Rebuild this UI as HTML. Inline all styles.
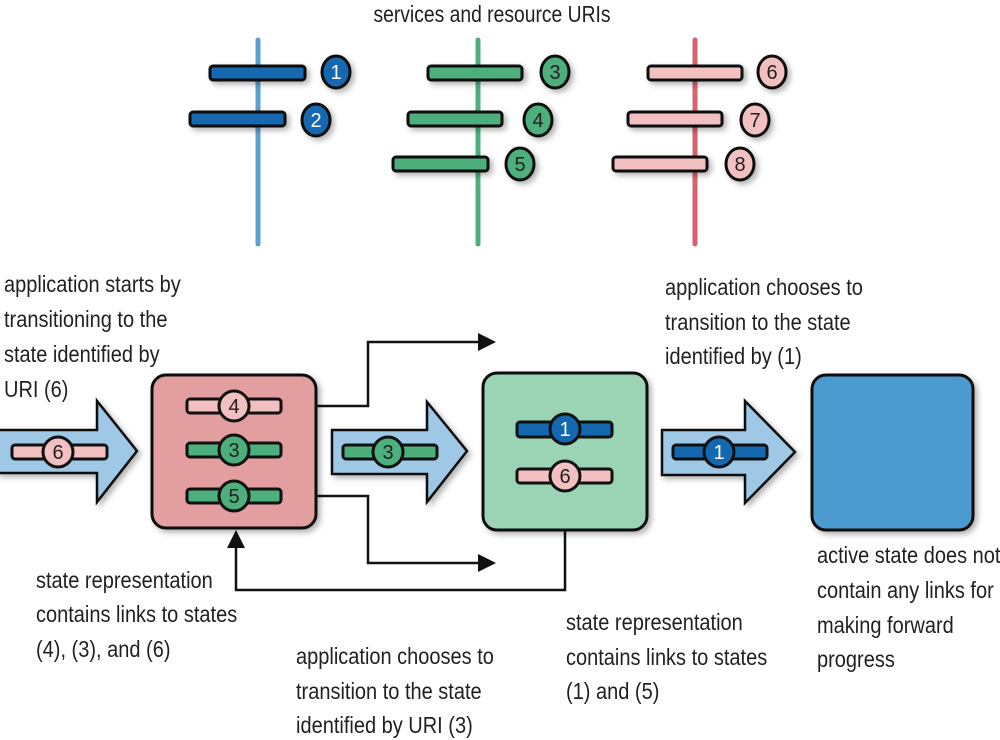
<!DOCTYPE html>
<html><head><meta charset="utf-8"><style>
html,body{margin:0;padding:0;background:#fff;}
svg{display:block;}
text{font-family:"Liberation Sans Narrow","Liberation Sans",sans-serif;font-size:23px;fill:#231f20;}
.n{font-size:20px;text-anchor:middle;}
</style></head><body>
<svg width="1000" height="740" viewBox="0 0 1000 740" xmlns="http://www.w3.org/2000/svg">
<defs>
<filter id="sh" x="-20%" y="-20%" width="150%" height="150%"><feDropShadow dx="3" dy="3" stdDeviation="3" flood-color="#000" flood-opacity="0.3"/></filter>
</defs>
<text transform="translate(492,22) scale(0.84,1)" text-anchor="middle">services and resource URIs</text>
<line x1="258" y1="40" x2="258" y2="244" stroke="#5aa0d0" stroke-width="5" stroke-linecap="round"/>
<line x1="478" y1="40" x2="478" y2="244" stroke="#4daf7c" stroke-width="5" stroke-linecap="round"/>
<line x1="695" y1="40" x2="695" y2="244" stroke="#d4636e" stroke-width="5" stroke-linecap="round"/>
<g stroke="#111" stroke-width="3" filter="url(#sh)">
<rect x="210" y="66" width="95" height="14" rx="3" fill="#1368b0"/>
<rect x="190" y="112" width="95" height="14" rx="3" fill="#1368b0"/>
<rect x="428" y="66" width="94" height="14" rx="3" fill="#4daf7c"/>
<rect x="408" y="112" width="94" height="14" rx="3" fill="#4daf7c"/>
<rect x="393" y="157" width="95" height="14" rx="3" fill="#4daf7c"/>
<rect x="648" y="66" width="94" height="14" rx="3" fill="#f2c0c0"/>
<rect x="628" y="112" width="94" height="14" rx="3" fill="#f2c0c0"/>
<rect x="613" y="157" width="94" height="14" rx="3" fill="#f2c0c0"/>
<ellipse cx="336" cy="72" rx="14" ry="16" fill="#1368b0"/>
<ellipse cx="316" cy="120" rx="14" ry="16" fill="#1368b0"/>
<ellipse cx="555" cy="72" rx="14" ry="16" fill="#4daf7c"/>
<ellipse cx="538" cy="120" rx="14" ry="16" fill="#4daf7c"/>
<ellipse cx="520" cy="164" rx="14" ry="16" fill="#4daf7c"/>
<ellipse cx="772" cy="72" rx="14" ry="16" fill="#f2c0c0"/>
<ellipse cx="755" cy="120" rx="14" ry="16" fill="#f2c0c0"/>
<ellipse cx="740" cy="164" rx="14" ry="16" fill="#f2c0c0"/>
</g>
<text class="n" x="336" y="79" style="fill:#fff">1</text>
<text class="n" x="316" y="127" style="fill:#fff">2</text>
<text class="n" x="555" y="79">3</text>
<text class="n" x="538" y="127">4</text>
<text class="n" x="520" y="171">5</text>
<text class="n" x="772" y="79">6</text>
<text class="n" x="755" y="127">7</text>
<text class="n" x="740" y="171">8</text>

<text transform="translate(4,292) scale(0.87,1)">application starts by</text>
<text transform="translate(4,327) scale(0.87,1)">transitioning to the</text>
<text transform="translate(4,362) scale(0.87,1)">state identified by</text>
<text transform="translate(4,397) scale(0.87,1)">URI (6)</text>
<text transform="translate(665,295) scale(0.87,1)">application chooses to</text>
<text transform="translate(665,330) scale(0.87,1)">transition to the state</text>
<text transform="translate(665,364) scale(0.87,1)">identified by (1)</text>
<text transform="translate(36,588) scale(0.87,1)">state representation</text>
<text transform="translate(36,622) scale(0.87,1)">contains links to states</text>
<text transform="translate(36,657) scale(0.87,1)">(4), (3), and (6)</text>
<text transform="translate(296,664) scale(0.87,1)">application chooses to</text>
<text transform="translate(296,699) scale(0.87,1)">transition to the state</text>
<text transform="translate(296,733) scale(0.87,1)">identified by URI (3)</text>
<text transform="translate(566,630) scale(0.87,1)">state representation</text>
<text transform="translate(566,665) scale(0.87,1)">contains links to states</text>
<text transform="translate(566,699) scale(0.87,1)">(1) and (5)</text>
<text transform="translate(817,563) scale(0.87,1)">active state does not</text>
<text transform="translate(817,598) scale(0.87,1)">contain any links for</text>
<text transform="translate(817,633) scale(0.87,1)">making forward</text>
<text transform="translate(817,667) scale(0.87,1)">progress</text>

<g fill="none" stroke="#111" stroke-width="2.5">
<polyline points="281,406 368,406 368,342 480,342"/>
<polyline points="281,496 368,496 368,563 480,563"/>
<polyline points="565,480 565,590 236,590 236,545"/>
</g>
<polygon points="496,342 478,333 478,351" fill="#111"/>
<polygon points="496,563 478,554 478,572" fill="#111"/>
<polygon points="236,530 227,548 245,548" fill="#111"/>

<g stroke="#111" stroke-width="2.5" fill="#9ec8e6" filter="url(#sh)">
<polygon points="-3,430 97,430 97,401 137,451 97,502 97,473 -3,473"/>
<polygon points="332,430 427,430 427,402 467,451 427,502 427,474 332,474"/>
<polygon points="662,430 745,430 745,401 795,452 745,503 745,475 662,475"/>
</g>
<g stroke="#111" stroke-width="3" filter="url(#sh)">
<rect x="152" y="375" width="164" height="153" rx="14" fill="#e39ea0"/>
<rect x="483" y="373" width="164" height="157" rx="14" fill="#9ad4b5"/>
<rect x="812" y="375" width="161" height="155" rx="14" fill="#4b9bd1"/>
</g>
<g stroke="#111" stroke-width="3">
<rect x="12" y="445" width="95" height="14" rx="3" fill="#f2c0c0"/>
<circle cx="58" cy="452" r="15" fill="#f2c0c0"/>
<rect x="187" y="399" width="94" height="14" rx="3" fill="#f2c0c0"/>
<circle cx="234" cy="406" r="15" fill="#f2c0c0"/>
<rect x="187" y="443" width="94" height="14" rx="3" fill="#4daf7c"/>
<circle cx="234" cy="450" r="15" fill="#4daf7c"/>
<rect x="187" y="489" width="94" height="14" rx="3" fill="#4daf7c"/>
<circle cx="234" cy="496" r="15" fill="#4daf7c"/>
<rect x="343" y="445" width="94" height="14" rx="3" fill="#4daf7c"/>
<circle cx="388" cy="452" r="15" fill="#4daf7c"/>
<rect x="517" y="422" width="95" height="15" rx="3" fill="#1368b0"/>
<circle cx="565" cy="429" r="15" fill="#1368b0"/>
<rect x="517" y="469" width="95" height="14" rx="3" fill="#f2c0c0"/>
<circle cx="565" cy="476" r="15" fill="#f2c0c0"/>
<rect x="673" y="445" width="94" height="14" rx="3" fill="#1368b0"/>
<circle cx="719" cy="452" r="15" fill="#1368b0"/>
</g>
<text class="n" x="58" y="459">6</text>
<text class="n" x="234" y="413">4</text>
<text class="n" x="234" y="457">3</text>
<text class="n" x="234" y="503">5</text>
<text class="n" x="388" y="459">3</text>
<text class="n" x="565" y="436" style="fill:#fff">1</text>
<text class="n" x="565" y="483">6</text>
<text class="n" x="719" y="459" style="fill:#fff">1</text>
</svg>
</body></html>
